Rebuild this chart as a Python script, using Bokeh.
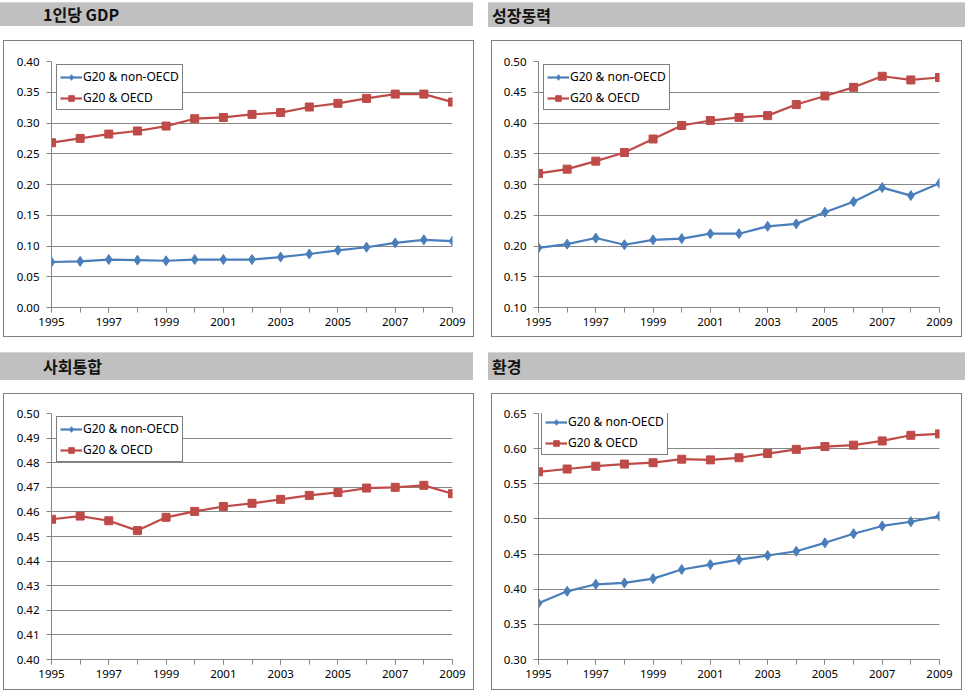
from bokeh.plotting import figure
from bokeh.models import (Range1d, FixedTicker, Legend, LegendItem, Div, PrintfTickFormatter)
from bokeh.layouts import row, column
from bokeh.embed import file_html
from bokeh.resources import INLINE

years = list(range(1995, 2010))
year_labels = [1995, 1997, 1999, 2001, 2003, 2005, 2007, 2009]
series_names = ["G20 & non-OECD", "G20 & OECD"]

titles = ["1인당 GDP", "성장동력", "사회통합", "환경"]

gdp_non_oecd = [0.074, 0.075, 0.078, 0.077, 0.076, 0.078, 0.078, 0.078, 0.082, 0.087, 0.093, 0.098, 0.105, 0.110, 0.108]
gdp_oecd = [0.268, 0.275, 0.282, 0.287, 0.295, 0.307, 0.309, 0.314, 0.317, 0.326, 0.332, 0.340, 0.347, 0.347, 0.334]

growth_non_oecd = [0.197, 0.203, 0.213, 0.202, 0.210, 0.212, 0.220, 0.220, 0.232, 0.236, 0.255, 0.272, 0.295, 0.282, 0.302]
growth_oecd = [0.318, 0.325, 0.338, 0.352, 0.374, 0.396, 0.404, 0.409, 0.412, 0.430, 0.444, 0.458, 0.476, 0.470, 0.474]

# non-OECD series is not visible inside the 0.40-0.50 axis range of this panel
social_non_oecd = [None] * 15
social_oecd = [0.4570, 0.4583, 0.4564, 0.4524, 0.4578, 0.4602, 0.4622, 0.4635, 0.4651, 0.4667, 0.4679, 0.4697, 0.4700, 0.4708, 0.4674]

env_non_oecd = [0.380, 0.397, 0.407, 0.409, 0.415, 0.428, 0.435, 0.442, 0.448, 0.454, 0.466, 0.479, 0.490, 0.496, 0.504]
env_oecd = [0.567, 0.571, 0.575, 0.578, 0.580, 0.585, 0.584, 0.587, 0.593, 0.599, 0.603, 0.605, 0.611, 0.619, 0.621]

y_ranges = [(0.0, 0.40, 0.05), (0.10, 0.50, 0.05), (0.40, 0.50, 0.01), (0.30, 0.65, 0.05)]

BLUE = "#4A7EBB"
RED = "#BE4B48"
GRID = "#868686"
FONT = "Noto Sans"
KFONT = "Noto Sans CJK KR"


def header(title, width, height, pad_left, margin):
    html = ('<div style="padding-left:%dpx;line-height:%dpx;height:%dpx;width:%dpx;'
            'background:#C0C0C0;border-top:1px solid #D4D4D4;box-sizing:border-box;'
            'font-family:\'%s\';font-weight:bold;font-size:16px;color:#111;">%s</div>'
            % (pad_left, height - 1, height, width, KFONT, title))
    return Div(text=html, width=width, height=height, margin=margin)


def make_chart(non, oecd, yr, borders, leg_xy, margin):
    ymin, ymax, step = yr
    left, right, top, bottom = borders
    p = figure(width=469, height=295, output_backend="svg", toolbar_location=None,
               x_range=Range1d(1995, 2009), y_range=Range1d(ymin, ymax),
               min_border_left=left, min_border_right=right,
               min_border_top=top, min_border_bottom=bottom,
               margin=margin,
               styles={"outline": "1px solid #808080"})
    p.outline_line_color = None
    p.background_fill_color = "white"
    p.border_fill_color = "white"

    nticks = int(round((ymax - ymin) / step))
    yticks = [round(ymin + i * step, 4) for i in range(nticks + 1)]

    p.xaxis.ticker = FixedTicker(ticks=year_labels, minor_ticks=years)
    p.xaxis.major_tick_in = 0
    p.xaxis.major_tick_out = 5
    p.xaxis.minor_tick_in = 0
    p.xaxis.minor_tick_out = 5
    p.xaxis.minor_tick_line_color = GRID
    p.xaxis.major_label_standoff = 5
    p.yaxis.ticker = FixedTicker(ticks=yticks)
    p.yaxis.formatter = PrintfTickFormatter(format="%.2f")
    p.yaxis.major_tick_in = 0
    p.yaxis.major_tick_out = 5
    p.yaxis.minor_tick_line_color = None
    p.yaxis.major_label_standoff = 7
    for ax in (p.xaxis, p.yaxis):
        ax.axis_line_color = GRID
        ax.major_tick_line_color = GRID
        ax.major_label_text_font = FONT
        ax.major_label_text_font_size = "11.5px"
        ax.major_label_text_color = "#000000"
    p.xgrid.visible = False
    p.ygrid.ticker = FixedTicker(ticks=yticks)
    p.ygrid.grid_line_color = GRID
    p.ygrid.grid_line_width = 1

    l1 = p.line(years, non, line_color=BLUE, line_width=2.2)
    s1 = p.scatter(years, non, marker="diamond", size=10, fill_color=BLUE, line_color=BLUE)
    l2 = p.line(years, oecd, line_color=RED, line_width=2.2)
    s2 = p.scatter(years, oecd, marker="square", size=8, fill_color=RED, line_color=RED)

    leg = Legend(items=[LegendItem(label=series_names[0], renderers=[l1, s1]),
                        LegendItem(label=series_names[1], renderers=[l2, s2])],
                 location=leg_xy, border_line_color="black", border_line_width=1,
                 background_fill_color="white", background_fill_alpha=1.0,
                 label_text_font=FONT, label_text_font_size="12px", label_text_color="#000000",
                 glyph_width=22, glyph_height=14, label_height=14, label_standoff=1,
                 padding=3, spacing=4, margin=0)
    p.add_layout(leg)
    return p


# frame borders inside each 469x295 canvas: (left, right, top, bottom)
c1 = make_chart(gdp_non_oecd, gdp_oecd, y_ranges[0], (47, 21, 20, 29), (5, 197), (15, 0, 0, 4))
c2 = make_chart(growth_non_oecd, growth_oecd, y_ranges[1], (46, 22, 20, 29), (5, 197), (14, 0, 0, 19))
c3 = make_chart(social_non_oecd, social_oecd, y_ranges[2], (47, 21, 19, 30), (5, 197), (14, 0, 0, 4))
c4 = make_chart(env_non_oecd, env_oecd, y_ranges[3], (46, 22, 19, 30), (3, 204), (14, 0, 0, 19))

h1 = header(titles[0], 473, 24, 43, (2, 0, 0, 0))
h2 = header(titles[1], 477, 25, 4, (2, 0, 0, 15))
h3 = header(titles[2], 473, 28, 43, (16, 0, 0, 0))
h4 = header(titles[3], 477, 28, 4, (16, 0, 0, 15))

layout = column(
    row(column(h1, c1, spacing=0), column(h2, c2, spacing=0), spacing=0),
    row(column(h3, c3, spacing=0), column(h4, c4, spacing=0), spacing=0),
    spacing=0,
)
open("out.html", "w").write(file_html(layout, INLINE))
